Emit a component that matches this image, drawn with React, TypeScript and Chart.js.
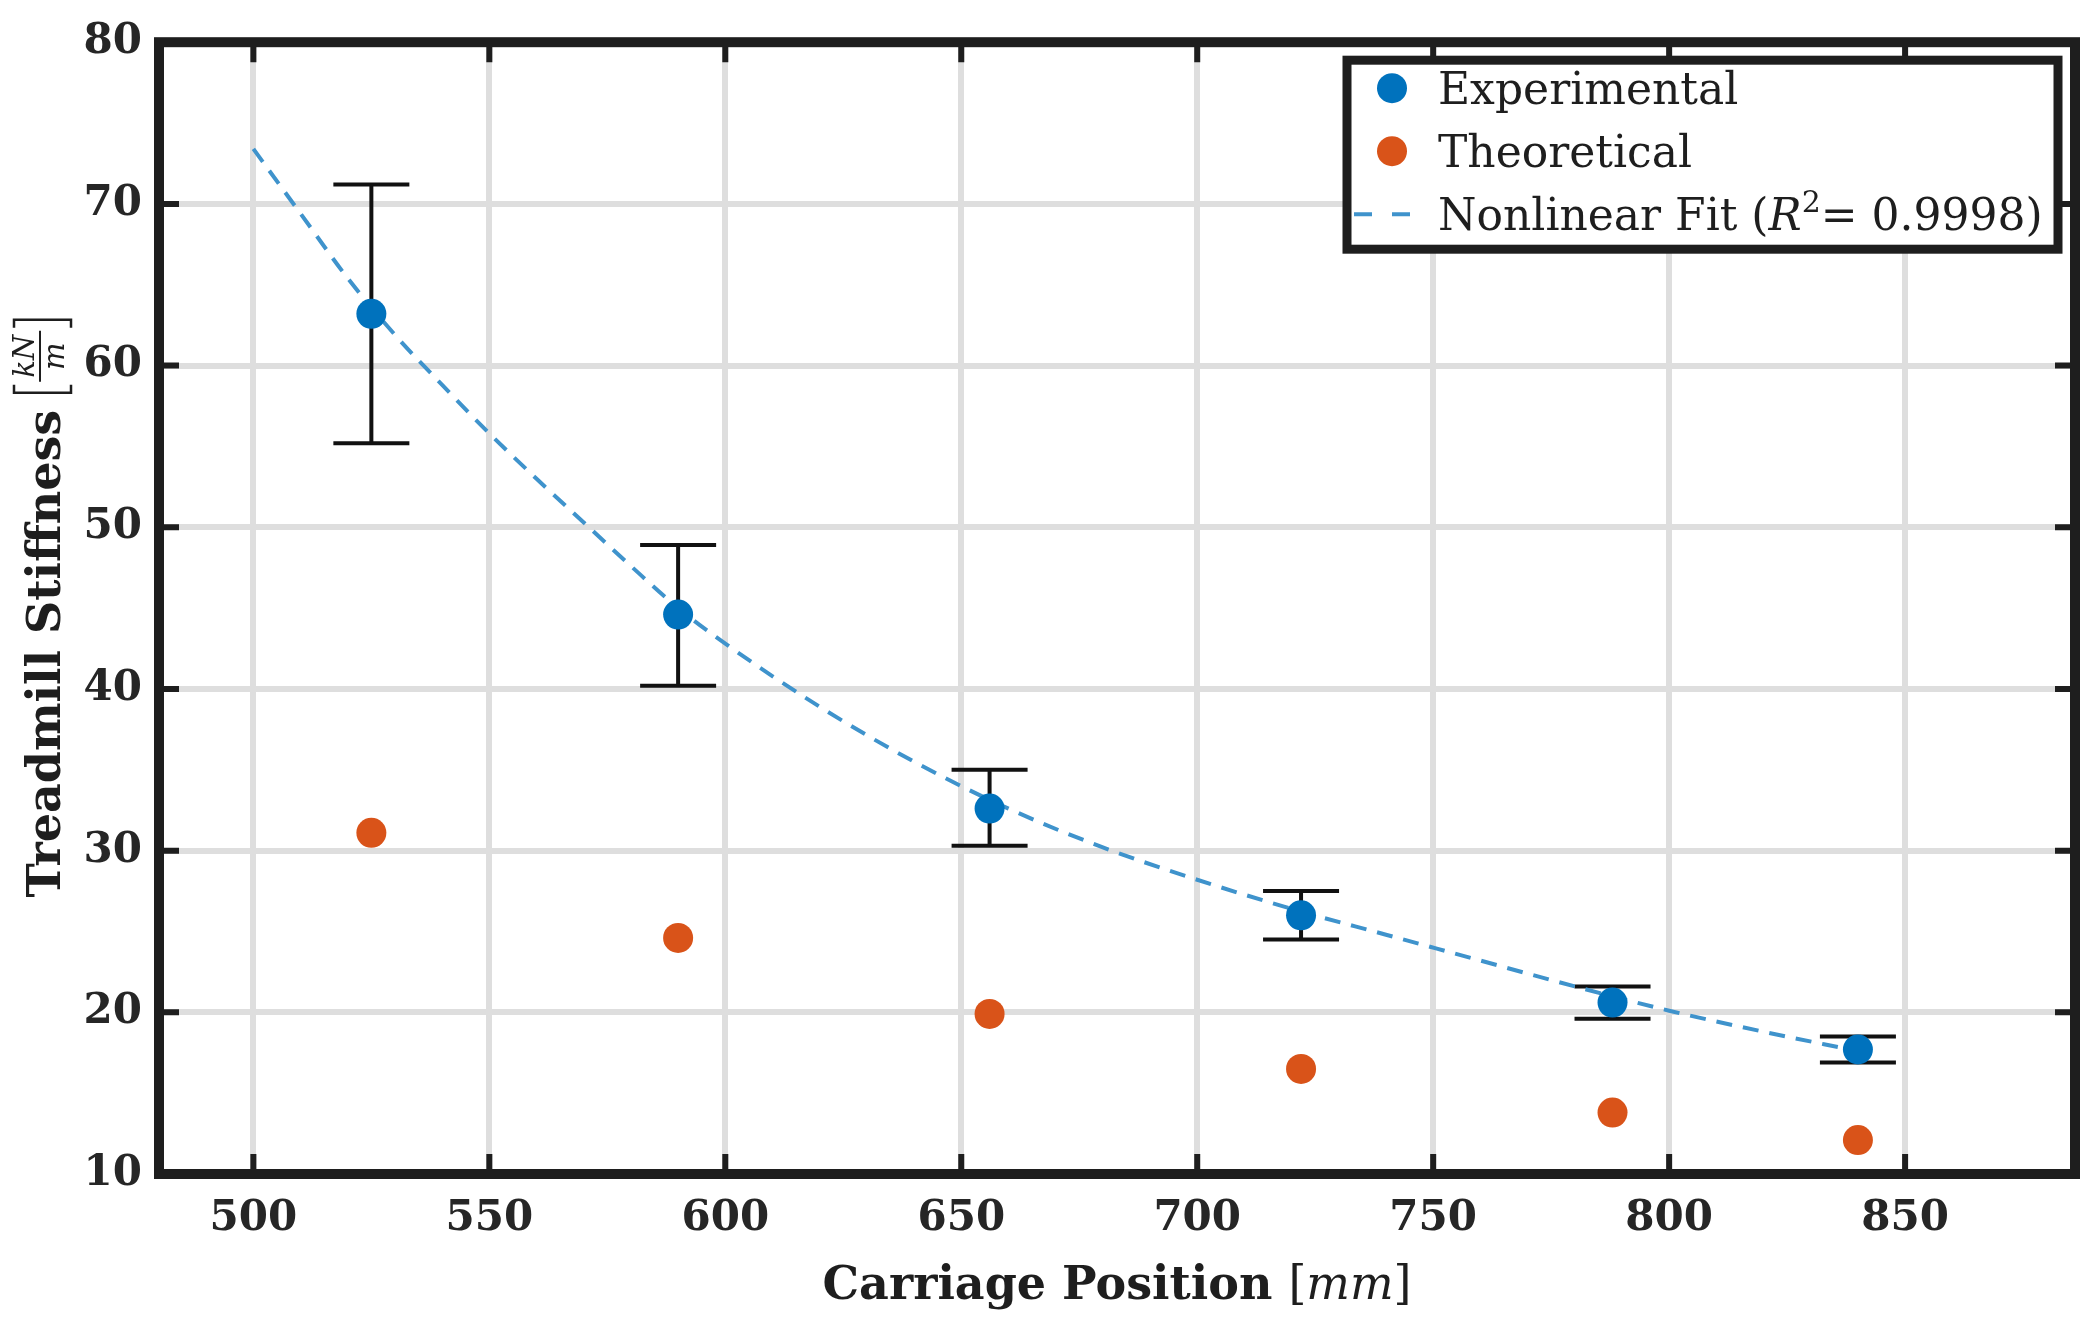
import React, { useEffect, useRef } from 'react';
import { Chart, registerables } from 'chart.js';

Chart.register(...registerables);

// carriage positions [mm] and measured / predicted stiffness [kN/m]
const positions = [525, 590, 656, 722, 788, 840];
const experimental = [63.2, 44.6, 32.6, 26.0, 20.6, 17.7];
const errLow = [55.2, 40.2, 30.3, 24.5, 19.6, 16.9];
const errHigh = [71.2, 48.9, 35.0, 27.5, 21.6, 18.5];
const theoretical = [31.1, 24.6, 19.9, 16.5, 13.8, 12.1];

// nonlinear fit curve
const fitX = [500, 510, 520, 530, 540, 550, 560, 570, 580, 590, 600, 620, 640, 660, 680, 700, 720, 740, 760, 780, 800, 820, 840];
const fitY = [73.4, 69.4, 65.4, 61.9, 58.8, 55.8, 53.0, 50.3, 47.6, 45.0, 42.8, 38.9, 35.5, 32.6, 30.2, 28.2, 26.4, 24.8, 23.2, 21.6, 20.1, 18.8, 17.6];

const xTicks = [500, 550, 600, 650, 700, 750, 800, 850];
const yTicks = [10, 20, 30, 40, 50, 60, 70, 80];

const SERIF = '"DejaVu Serif", serif';
const INK = '#1e1e1e';
const BLUE = '#0072BD';
const ORANGE = '#D95319';
const FIT = '#3F93CC';
const GRID = '#dedede';

const errorBars = {
  id: 'errorBars',
  beforeDatasetsDraw(chart: any) {
    const { ctx, scales } = chart;
    const xs = scales.x, ys = scales.y;
    ctx.save();
    ctx.strokeStyle = '#111';
    ctx.lineWidth = 4;
    positions.forEach((p, i) => {
      const x = xs.getPixelForValue(p);
      const lo = ys.getPixelForValue(errLow[i]);
      const hi = ys.getPixelForValue(errHigh[i]);
      ctx.beginPath();
      ctx.moveTo(x, lo);
      ctx.lineTo(x, hi);
      ctx.moveTo(x - 38, lo);
      ctx.lineTo(x + 38, lo);
      ctx.moveTo(x - 38, hi);
      ctx.lineTo(x + 38, hi);
      ctx.stroke();
    });
    ctx.restore();
  },
};

const frame = {
  id: 'frame',
  afterDatasetsDraw(chart: any) {
    const { ctx, chartArea: a, scales } = chart;
    ctx.save();
    ctx.strokeStyle = INK;
    ctx.lineWidth = 6;
    ctx.beginPath();
    xTicks.forEach((t) => {
      const x = scales.x.getPixelForValue(t);
      ctx.moveTo(x, a.bottom);
      ctx.lineTo(x, a.bottom - 20);
      ctx.moveTo(x, a.top);
      ctx.lineTo(x, a.top + 20);
    });
    yTicks.forEach((t) => {
      const y = scales.y.getPixelForValue(t);
      ctx.moveTo(a.left, y);
      ctx.lineTo(a.left + 20, y);
      ctx.moveTo(a.right, y);
      ctx.lineTo(a.right - 20, y);
    });
    ctx.stroke();
    ctx.lineWidth = 10;
    ctx.strokeRect(a.left, a.top, a.right - a.left, a.bottom - a.top);
    ctx.restore();
  },
};

const titles = {
  id: 'titles',
  afterDraw(chart: any) {
    const { ctx, chartArea: a } = chart;
    ctx.save();
    ctx.fillStyle = INK;
    ctx.strokeStyle = INK;
    ctx.textBaseline = 'alphabetic';
    ctx.textAlign = 'left';

    // x title: Carriage Position [mm]
    const parts: [string, string][] = [
      ['Carriage Position ', `bold 46px ${SERIF}`],
      ['[', `46px ${SERIF}`],
      ['mm', `italic 46px ${SERIF}`],
      [']', `46px ${SERIF}`],
    ];
    let total = 0;
    parts.forEach(([t, f]) => {
      ctx.font = f;
      total += ctx.measureText(t).width;
    });
    let x = (a.left + a.right) / 2 - total / 2;
    parts.forEach(([t, f]) => {
      ctx.font = f;
      ctx.fillText(t, x, 1299);
      x += ctx.measureText(t).width;
    });

    // y title: Treadmill Stiffness [kN/m]
    ctx.save();
    ctx.translate(44, (a.top + a.bottom) / 2);
    ctx.rotate(-Math.PI / 2);
    const main = 'Treadmill Stiffness';
    ctx.font = `bold 46px ${SERIF}`;
    const w1 = ctx.measureText(main).width;
    ctx.font = `italic 29px ${SERIF}`;
    const wFrac = ctx.measureText('kN').width + 8;
    const gap = 16, br = 12;
    const full = w1 + gap + br + wFrac + br;
    let u = -full / 2;
    ctx.font = `bold 46px ${SERIF}`;
    ctx.fillText(main, u, 16);
    u += w1 + gap;
    ctx.lineWidth = 2.5;
    ctx.beginPath();
    ctx.moveTo(u + 9, -30);
    ctx.lineTo(u + 1, -30);
    ctx.lineTo(u + 1, 27);
    ctx.lineTo(u + 9, 27);
    ctx.stroke();
    u += br;
    ctx.font = `italic 29px ${SERIF}`;
    ctx.textAlign = 'center';
    ctx.fillText('kN', u + wFrac / 2, -10);
    ctx.fillText('m', u + wFrac / 2, 20);
    ctx.lineWidth = 2;
    ctx.beginPath();
    ctx.moveTo(u, -4);
    ctx.lineTo(u + wFrac, -4);
    ctx.stroke();
    u += wFrac;
    ctx.lineWidth = 2.5;
    ctx.beginPath();
    ctx.moveTo(u + 3, -30);
    ctx.lineTo(u + 11, -30);
    ctx.lineTo(u + 11, 27);
    ctx.lineTo(u + 3, 27);
    ctx.stroke();
    ctx.restore();

    ctx.restore();
  },
};

const legendBox = {
  id: 'legendBox',
  afterDraw(chart: any) {
    const { ctx, chartArea: a } = chart;
    const left = a.right - 728, top = a.top + 18;
    const w = 711, h = 189;
    ctx.save();
    ctx.fillStyle = '#fff';
    ctx.fillRect(left, top, w, h);
    ctx.strokeStyle = INK;
    ctx.lineWidth = 9;
    ctx.strokeRect(left, top, w, h);

    const rows = [top + 28, top + 91, top + 154];
    const mx = left + 45, tx = left + 91;
    ctx.fillStyle = BLUE;
    ctx.beginPath();
    ctx.arc(mx, rows[0], 15, 0, Math.PI * 2);
    ctx.fill();
    ctx.fillStyle = ORANGE;
    ctx.beginPath();
    ctx.arc(mx, rows[1], 15, 0, Math.PI * 2);
    ctx.fill();
    ctx.strokeStyle = FIT;
    ctx.lineWidth = 4;
    ctx.setLineDash([18, 20]);
    ctx.beginPath();
    ctx.moveTo(left + 7, rows[2]);
    ctx.lineTo(left + 63, rows[2]);
    ctx.stroke();
    ctx.setLineDash([]);

    ctx.fillStyle = INK;
    ctx.textBaseline = 'alphabetic';
    ctx.font = `44px ${SERIF}`;
    ctx.fillText('Experimental', tx, rows[0] + 16);
    ctx.fillText('Theoretical', tx, rows[1] + 16);
    const segs: [string, string, number][] = [
      ['Nonlinear Fit (', `44px ${SERIF}`, 0],
      ['R', `italic 44px ${SERIF}`, 0],
      ['2', `30px ${SERIF}`, -18],
      ['= 0.9998)', `44px ${SERIF}`, 0],
    ];
    let x = tx;
    segs.forEach(([t, f, dy]) => {
      ctx.font = f;
      ctx.fillText(t, x, rows[2] + 16 + dy);
      x += ctx.measureText(t).width;
    });
    ctx.restore();
  },
};

const tickFont = { family: SERIF, size: 42, weight: 'bold' as const };

export default function App() {
  const canvasRef = useRef<HTMLCanvasElement>(null);

  useEffect(() => {
    document.body.style.margin = '0';
    if (!canvasRef.current) return;
    const chart = new Chart(canvasRef.current, {
      type: 'scatter',
      data: {
        datasets: [
          {
            label: 'Experimental',
            data: positions.map((x, i) => ({ x, y: experimental[i] })),
            pointRadius: 15,
            pointBackgroundColor: BLUE,
            pointBorderWidth: 0,
          },
          {
            label: 'Theoretical',
            data: positions.map((x, i) => ({ x, y: theoretical[i] })),
            pointRadius: 15,
            pointBackgroundColor: ORANGE,
            pointBorderWidth: 0,
          },
          {
            label: 'Nonlinear Fit',
            type: 'line',
            data: fitX.map((x, i) => ({ x, y: fitY[i] })),
            borderColor: FIT,
            borderWidth: 4,
            borderDash: [16, 11],
            pointRadius: 0,
            cubicInterpolationMode: 'monotone',
            fill: false,
          } as any,
        ],
      },
      options: {
        animation: false,
        responsive: false,
        devicePixelRatio: 1,
        layout: { padding: { top: 37, right: 25, left: 0, bottom: 0 } },
        plugins: { legend: { display: false }, tooltip: { enabled: false } },
        scales: {
          x: {
            type: 'linear',
            min: 480,
            max: 886,
            afterBuildTicks: (s: any) => { s.ticks = xTicks.map((v) => ({ value: v })); },
            afterFit: (s: any) => { s.height = 150; },
            grid: { color: GRID, lineWidth: 6, drawTicks: false },
            border: { display: false },
            ticks: { font: tickFont, color: '#262626', padding: 20, maxRotation: 0, autoSkip: false, callback: (v: any) => String(v) },
          },
          y: {
            type: 'linear',
            min: 10,
            max: 80,
            afterBuildTicks: (s: any) => { s.ticks = yTicks.map((v) => ({ value: v })); },
            afterFit: (s: any) => { s.width = 159; },
            grid: { color: GRID, lineWidth: 6, drawTicks: false },
            border: { display: false },
            ticks: { font: tickFont, color: '#262626', padding: 17, autoSkip: false, callback: (v: any) => String(v) },
          },
        },
      },
      plugins: [errorBars, frame, titles, legendBox],
    });
    return () => chart.destroy();
  }, []);

  return (
    <div style={{ width: 2100, height: 1324, background: '#fff' }}>
      <canvas ref={canvasRef} width={2100} height={1324} style={{ display: 'block' }} />
    </div>
  );
}
